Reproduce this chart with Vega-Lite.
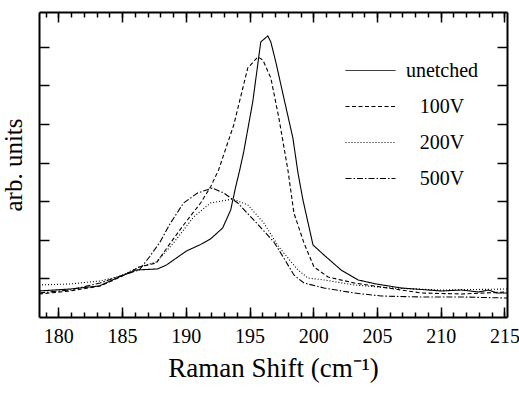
{
  "$schema": "https://vega.github.io/schema/vega-lite/v6.json",
  "width": 468,
  "height": 305,
  "autosize": {"type": "none"},
  "padding": {"left": 39, "top": 12, "right": 12, "bottom": 77},
  "background": "white",
  "config": {
    "view": {"stroke": null},
    "font": "Liberation Serif",
    "axis": {
      "domainColor": "black", "domainWidth": 2, "tickColor": "black", "tickWidth": 1.5,
      "grid": false, "labelColor": "black", "titleColor": "black",
      "labelFont": "Liberation Serif", "titleFont": "Liberation Serif",
      "titleFontWeight": "normal"
    },
    "legend": {"labelFont": "Liberation Serif", "labelColor": "black"}
  },
  "data": {"values": [
    {"s":"unetched","x":178.48,"y":0.674},{"s":"unetched","x":180.92,"y":0.725},{"s":"unetched","x":183.2,"y":0.803},{"s":"unetched","x":184.94,"y":1.062},{"s":"unetched","x":186.12,"y":1.218},{"s":"unetched","x":187.77,"y":1.244},{"s":"unetched","x":188.48,"y":1.347},{"s":"unetched","x":190.05,"y":1.71},{"s":"unetched","x":191.08,"y":1.865},{"s":"unetched","x":191.94,"y":2.021},{"s":"unetched","x":192.89,"y":2.306},{"s":"unetched","x":193.52,"y":2.772},{"s":"unetched","x":193.91,"y":3.368},{"s":"unetched","x":194.23,"y":3.808},{"s":"unetched","x":194.54,"y":4.275},{"s":"unetched","x":195.25,"y":5.57},{"s":"unetched","x":195.88,"y":7.124},{"s":"unetched","x":196.43,"y":7.28},{"s":"unetched","x":196.67,"y":7.124},{"s":"unetched","x":197.06,"y":6.606},{"s":"unetched","x":197.69,"y":5.674},{"s":"unetched","x":198.4,"y":4.637},{"s":"unetched","x":198.8,"y":3.731},{"s":"unetched","x":199.19,"y":3.031},{"s":"unetched","x":199.98,"y":1.865},{"s":"unetched","x":200.84,"y":1.606},{"s":"unetched","x":202.18,"y":1.218},{"s":"unetched","x":203.52,"y":0.959},{"s":"unetched","x":204.94,"y":0.855},{"s":"unetched","x":206.91,"y":0.751},{"s":"unetched","x":210.05,"y":0.674},{"s":"unetched","x":211.63,"y":0.699},{"s":"unetched","x":212.97,"y":0.648},{"s":"unetched","x":213.76,"y":0.699},{"s":"unetched","x":214.39,"y":0.622},{"s":"unetched","x":215.2,"y":0.622},
    {"s":"100V","x":178.48,"y":0.596},{"s":"100V","x":180.92,"y":0.674},{"s":"100V","x":183.28,"y":0.803},{"s":"100V","x":184.86,"y":1.036},{"s":"100V","x":186.35,"y":1.295},{"s":"100V","x":187.69,"y":1.399},{"s":"100V","x":188.56,"y":1.81},{"s":"100V","x":189.82,"y":2.383},{"s":"100V","x":191.16,"y":2.953},{"s":"100V","x":191.94,"y":3.368},{"s":"100V","x":192.57,"y":3.808},{"s":"100V","x":193.76,"y":4.974},{"s":"100V","x":194.86,"y":6.451},{"s":"100V","x":195.65,"y":6.736},{"s":"100V","x":196.04,"y":6.658},{"s":"100V","x":196.67,"y":6.192},{"s":"100V","x":197.3,"y":5.155},{"s":"100V","x":198.01,"y":3.808},{"s":"100V","x":198.48,"y":2.694},{"s":"100V","x":199.27,"y":1.917},{"s":"100V","x":200.06,"y":1.295},{"s":"100V","x":201.16,"y":1.036},{"s":"100V","x":203.2,"y":0.881},{"s":"100V","x":205.33,"y":0.777},{"s":"100V","x":208.48,"y":0.622},{"s":"100V","x":211.63,"y":0.596},{"s":"100V","x":215.2,"y":0.648},
    {"s":"200V","x":178.48,"y":0.829},{"s":"200V","x":180.92,"y":0.855},{"s":"200V","x":183.28,"y":0.933},{"s":"200V","x":184.86,"y":1.062},{"s":"200V","x":186.35,"y":1.295},{"s":"200V","x":187.69,"y":1.425},{"s":"200V","x":189.03,"y":1.917},{"s":"200V","x":190.61,"y":2.591},{"s":"200V","x":191.94,"y":2.953},{"s":"200V","x":193.68,"y":3.057},{"s":"200V","x":194.86,"y":2.902},{"s":"200V","x":196.12,"y":2.435},{"s":"200V","x":197.3,"y":1.813},{"s":"200V","x":197.69,"y":1.658},{"s":"200V","x":198.8,"y":1.218},{"s":"200V","x":199.58,"y":1.01},{"s":"200V","x":200.84,"y":0.959},{"s":"200V","x":203.2,"y":0.829},{"s":"200V","x":206.12,"y":0.751},{"s":"200V","x":210.05,"y":0.699},{"s":"200V","x":215.2,"y":0.725},
    {"s":"500V","x":178.48,"y":0.622},{"s":"500V","x":180.92,"y":0.699},{"s":"500V","x":183.28,"y":0.881},{"s":"500V","x":184.86,"y":1.062},{"s":"500V","x":186.35,"y":1.218},{"s":"500V","x":187.14,"y":1.554},{"s":"500V","x":187.93,"y":1.917},{"s":"500V","x":188.8,"y":2.435},{"s":"500V","x":189.82,"y":2.953},{"s":"500V","x":190.92,"y":3.212},{"s":"500V","x":192.1,"y":3.342},{"s":"500V","x":192.97,"y":3.212},{"s":"500V","x":194.07,"y":2.953},{"s":"500V","x":195.33,"y":2.513},{"s":"500V","x":196.91,"y":1.943},{"s":"500V","x":197.69,"y":1.528},{"s":"500V","x":198.48,"y":1.088},{"s":"500V","x":199.27,"y":0.881},{"s":"500V","x":200.84,"y":0.751},{"s":"500V","x":203.2,"y":0.622},{"s":"500V","x":205.33,"y":0.544},{"s":"500V","x":208.48,"y":0.518},{"s":"500V","x":211.63,"y":0.518},{"s":"500V","x":215.2,"y":0.492}
  ]},
  "resolve": {"axis": {"x": "independent", "y": "independent"}},
  "layer": [
    {
      "mark": {"type": "line", "color": "black", "strokeWidth": 1.1, "clip": true},
      "encoding": {
        "x": {"field": "x", "type": "quantitative",
          "scale": {"domain": [178.48, 215.2], "nice": false, "zero": false},
          "axis": {"orient": "bottom", "title": "Raman Shift (cm⁻¹)", "titleFontSize": 27, "titlePadding": 9, "titleFont": "Liberation Serif",
            "values": [179,180,181,182,183,184,185,186,187,188,189,190,191,192,193,194,195,196,197,198,199,200,201,202,203,204,205,206,207,208,209,210,211,212,213,214,215],
            "labelExpr": "datum.value % 5 === 0 ? datum.label : ''", "labelFont": "Liberation Serif", "labelFontSize": 20, "labelPadding": 14, "labelOverlap": false, "labelFlush": false,
            "tickSize": -5}},
        "y": {"field": "y", "type": "quantitative",
          "scale": {"domain": [0, 7.9], "nice": false, "zero": false},
          "axis": {"orient": "left", "title": "arb. units", "titleFontSize": 25, "titlePadding": 12, "titleFont": "Liberation Serif",
            "values": [1,2,3,4,5,6,7], "labels": false, "tickSize": -10}},
        "detail": {"field": "s"},
        "strokeDash": {"field": "s", "type": "nominal",
          "scale": {"domain": ["unetched", "100V", "200V", "500V"], "range": [[1,0],[4,2.5],[1,2],[6,2,1.5,2]]},
          "legend": {"orient": "none", "legendX": 306, "legendY": 33, "title": null, "labelFont": "Liberation Serif", "labelFontSize": 20,
            "symbolType": "stroke", "symbolSize": 2500, "symbolStrokeWidth": 1, "symbolStrokeColor": "black",
            "rowPadding": -15, "labelAlign": "center", "labelOffset": 46, "padding": 0}}
      }
    },
    {
      "mark": {"type": "point", "opacity": 0},
      "encoding": {
        "x": {"field": "x", "type": "quantitative",
          "axis": {"orient": "top", "title": null, "labels": false,
            "values": [179,180,181,182,183,184,185,186,187,188,189,190,191,192,193,194,195,196,197,198,199,200,201,202,203,204,205,206,207,208,209,210,211,212,213,214,215],
            "tickSize": -5}},
        "y": {"field": "y", "type": "quantitative",
          "axis": {"orient": "right", "title": null, "labels": false, "values": [1,2,3,4,5,6,7], "tickSize": -10}}
      }
    },
    {
      "mark": {"type": "point", "opacity": 0},
      "encoding": {
        "x": {"field": "x", "type": "quantitative",
          "axis": {"orient": "bottom", "title": null, "labels": false, "domain": false,
            "values": [180,185,190,195,200,205,210,215], "tickSize": -10}},
        "y": {"field": "y", "type": "quantitative", "axis": null}
      }
    },
    {
      "mark": {"type": "point", "opacity": 0},
      "encoding": {
        "x": {"field": "x", "type": "quantitative",
          "axis": {"orient": "top", "title": null, "labels": false, "domain": false,
            "values": [180,185,190,195,200,205,210,215], "tickSize": -10}},
        "y": {"field": "y", "type": "quantitative", "axis": null}
      }
    }
  ]
}
